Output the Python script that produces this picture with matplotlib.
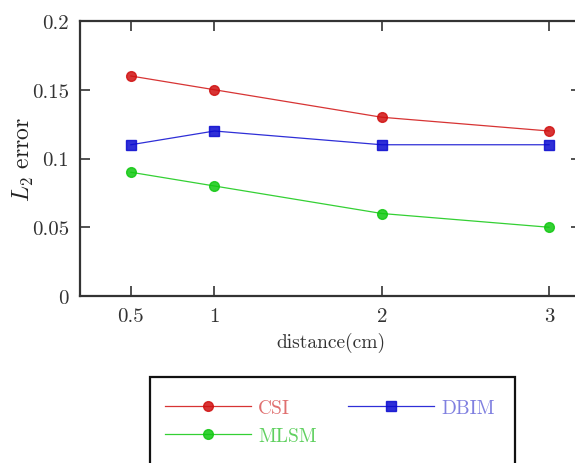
import matplotlib
matplotlib.use("Agg")
import matplotlib.pyplot as plt
from matplotlib.patches import Rectangle

plt.rcParams['font.family'] = 'serif'
plt.rcParams['font.serif'] = ['cmr10']
plt.rcParams['mathtext.fontset'] = 'cm'
plt.rcParams['axes.formatter.use_mathtext'] = True

distance = [0.5, 1, 2, 3]
csi = [0.16, 0.15, 0.13, 0.12]
dbim = [0.11, 0.12, 0.11, 0.11]
mlsm = [0.09, 0.08, 0.06, 0.05]
xticks = [0.5, 1, 2, 3]
xtick_labels = ['0.5', '1', '2', '3']
yticks = [0, 0.05, 0.1, 0.15, 0.2]
ytick_labels = ['0', '0.05', '0.1', '0.15', '0.2']

W, H = 575, 464
fig = plt.figure(figsize=(W / 100, H / 100), dpi=100)
left, right, top, bottom = 80, 581, 22, 297
ax = fig.add_axes([left / W, 1 - bottom / H, (right - left) / W, (bottom - top) / H])

l1, = ax.plot(distance, csi, '-o', color='#d01010', lw=0.9, ms=7, alpha=0.85)
l2, = ax.plot(distance, dbim, '-s', color='#0a0ad0', lw=0.9, ms=7, alpha=0.85)
l3, = ax.plot(distance, mlsm, '-o', color='#10c810', lw=0.9, ms=7, alpha=0.85)

ax.set_xlim(0.196, 3.191)
ax.set_ylim(0, 0.2)
ax.set_xticks(xticks)
ax.set_xticklabels(xtick_labels)
ax.set_yticks(yticks)
ax.set_yticklabels(ytick_labels)
ax.tick_params(direction='in', top=True, right=True, length=7, width=1.2,
               labelsize=15, colors='#333333', labelcolor='#333333', pad=8)
for s in ax.spines.values():
    s.set_linewidth(1.6)
    s.set_color('#333333')
ax.spines['right'].set_visible(False)
ax.set_xlabel('distance(cm)', fontsize=14, color='#333333', labelpad=5)
ax.set_ylabel('$L_2$ error', fontsize=17, color='#222222', labelpad=-3)

rect = Rectangle((150 / W, 1 - 480 / H), (515 - 150) / W, (480 - 378) / H,
                 transform=fig.transFigure, fill=False, edgecolor='#111111',
                 lw=1.6, clip_on=False)
fig.patches.append(rect)

leg = fig.legend([l1, l3, l2], ['CSI', 'MLSM', 'DBIM'], ncol=2,
                 loc='upper left', bbox_to_anchor=(165 / W, 1 - 400 / H),
                 frameon=False, fontsize=14, handlelength=4.4,
                 columnspacing=1.6, handletextpad=0.4, labelspacing=0.5,
                 borderpad=0, borderaxespad=0)
text_colors = ['#e07070', '#60d060', '#8080e0']
for t, c in zip(leg.get_texts(), text_colors):
    t.set_color(c)

fig.savefig('out.png', dpi=100)
